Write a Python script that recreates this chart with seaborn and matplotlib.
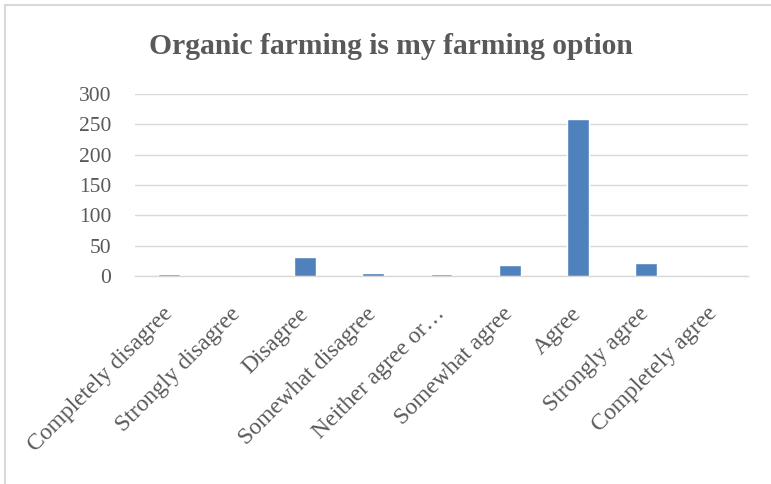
import matplotlib
matplotlib.use("Agg")
import matplotlib.pyplot as plt
import seaborn as sns
import pandas as pd
from matplotlib.lines import Line2D

categories = ["Completely disagree", "Strongly disagree", "Disagree", "Somewhat disagree",
              "Neither agree or\u2026", "Somewhat agree", "Agree", "Strongly agree", "Completely agree"]
counts = [3, 0, 31, 5, 3, 18, 258, 22, 0]
yticks = [0, 50, 100, 150, 200, 250, 300]
title = "Organic farming is my farming option"

df = pd.DataFrame({"category": categories, "count": counts})

sns.set_theme(style="white")
plt.rcParams["font.family"] = ["Liberation Serif", "DejaVu Serif"]

fig = plt.figure(figsize=(7.71, 4.84), dpi=100)
ax = fig.add_axes([135/771, 1-276/484, (748-135)/771, (276-94)/484])

sns.barplot(data=df, x="category", y="count", color="#4F81BD", width=0.32,
            saturation=1, ax=ax, zorder=3)

ax.set_ylim(0, 300)
ax.set_yticks(yticks)
ax.set_yticklabels([str(v) for v in yticks])
ax.yaxis.grid(True, color="#D9D9D9", linewidth=1, zorder=0)
ax.set_axisbelow(True)
for s in ["left", "right", "top"]:
    ax.spines[s].set_visible(False)
ax.spines["bottom"].set_color("#D9D9D9")
ax.spines["bottom"].set_linewidth(1)
ax.spines["bottom"].set_zorder(0)
ax.set_xlabel("")
ax.set_ylabel("")
ax.tick_params(axis="y", length=0, pad=17, labelsize=15.5, labelcolor="#595959")
ax.tick_params(axis="x", length=0, pad=25, labelsize=17, labelcolor="#595959")
for lbl in ax.get_xticklabels():
    lbl.set_rotation(45)
    lbl.set_ha("right")
    lbl.set_va("center")
    lbl.set_rotation_mode("anchor")

fig.text(391 / 771, 1 - 46/484, title, ha="center", va="center",
         fontsize=21.3, fontweight="bold", color="#595959")

fig.add_artist(Line2D([5/771, 5/771], [0, 1-5/484], transform=fig.transFigure,
                      color="#D9D9D9", linewidth=1.5))
fig.add_artist(Line2D([5/771, 1], [1-5/484, 1-5/484], transform=fig.transFigure,
                      color="#D9D9D9", linewidth=1.5))

fig.savefig("out.png", dpi=100, facecolor="white")
